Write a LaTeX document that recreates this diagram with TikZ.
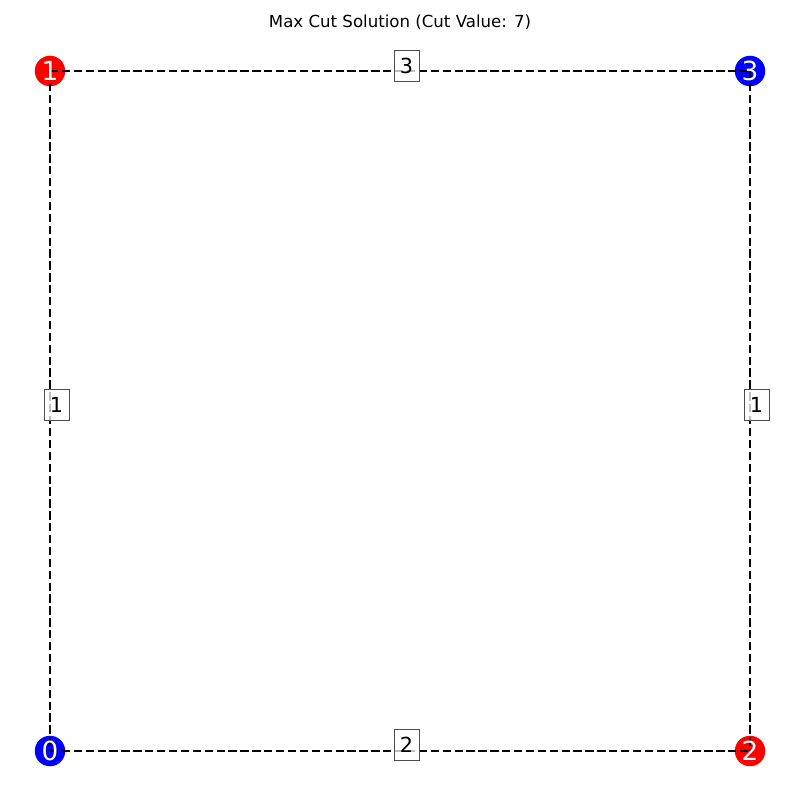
\documentclass[tikz,border=0pt]{standalone}
\usepackage{fontspec}
\setmainfont{DejaVu Sans}
\tikzset{
  vtx/.style={circle,inner sep=0pt,minimum size=30.5*0.0254cm,text=white,font=\fontsize{19}{19}\selectfont},
  cutedge/.style={draw=black,line width=1.7pt,dash pattern=on 6pt off 2.6pt},
  wbox/.style={draw=black!70,fill=white,fill opacity=0.75,text opacity=1,line width=0.7pt,
    minimum width=25*0.0254cm,minimum height=31*0.0254cm,inner sep=0pt,font=\fontsize{15}{15}\selectfont}
}
\begin{document}
\begin{tikzpicture}[x=0.0254cm,y=-0.0254cm]
            \useasboundingbox (0,0) rectangle (800,800);
            \node[font=\fontsize{12}{12}\selectfont] (title) at (400,22) {Max Cut Solution (Cut Value: 7)};
            % vertices
            \node[vtx,fill=blue] (n0) at (50,751) {};
            \node[vtx,fill=red] (n1) at (50,71) {};
            \node[vtx,fill=red] (n2) at (750,751) {};
            \node[vtx,fill=blue] (n3) at (750,71) {};
            % edges
            \draw[cutedge] (n1.center)--(n3.center);
            \draw[cutedge] (n1.center)--(n0.center);
            \draw[cutedge] (n3.center)--(n2.center);
            \draw[cutedge] (n0.center)--(n2.center);
            \foreach \v in {0,1,2,3}
                \node[vtx] at (n\v) {\v};
            % weights
            \node[wbox] (w13) at (406.5,65.5) {3};
            \node[wbox] (w01) at (56.5,405) {1};
            \node[wbox] (w23) at (756.5,405) {1};
            \node[wbox] (w02) at (406.5,745) {2};
        \end{tikzpicture}
\end{document}
